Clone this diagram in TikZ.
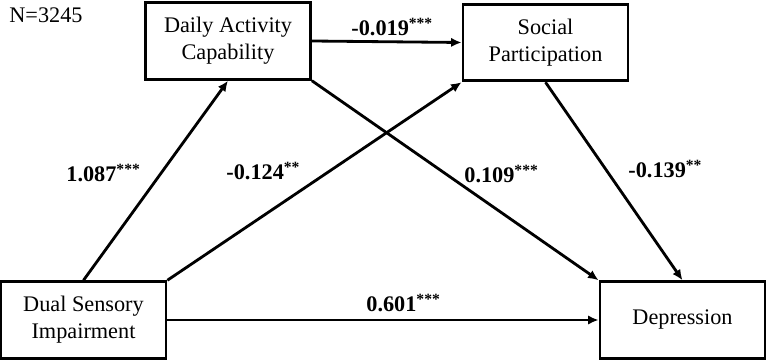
\documentclass[tikz,border=0pt]{standalone}
\usepackage{fontspec}
\setmainfont{Liberation Serif}
\usetikzlibrary{arrows.meta}
\begin{document}
\begin{tikzpicture}[>={Latex[length=9pt,width=8pt]}, line width=2.4pt,
  box/.style={draw, align=center, minimum width=4.95cm, minimum height=2.3cm,
    font=\fontsize{19}{23}\selectfont},
  coef/.style={anchor=base west, inner sep=0pt, font=\fontsize{19}{23}\selectfont\bfseries}]
\useasboundingbox (0,0) rectangle (23.01,10.83);
\node[anchor=base west, inner sep=0pt, font=\fontsize{19}{23}\selectfont](N) at (0.24,10.14){N=3245};

\node[box](M1) at (6.84,9.6){Daily Activity\\Capability};
\node[box](M2) at (16.365,9.555){Social\\Participation};
\node[box](X) at (2.505,1.23){Dual Sensory\\Impairment};
\node[box](Y) at (20.475,1.23){Depression};

\draw[->](X.north) -- (M1.south);
\draw[->](X.north east) -- (M2.south west);
\draw[->](M1.east) -- (M2.west);
\draw[->](M1.south east) -- (Y.north west);
\draw[->](M2.south) -- (Y.north);
\draw[->](X.east) -- (Y.west);

\node[coef](A) at (1.95,5.37){1.087\textsuperscript{***}};
\node[coef](B) at (6.75,5.43){-0.124\textsuperscript{**}};
\node[coef](C) at (10.5,9.75){-0.019\textsuperscript{***}};
\node[coef](D) at (13.89,5.34){0.109\textsuperscript{***}};
\node[coef](E) at (18.81,5.49){-0.139\textsuperscript{**}};
\node[coef](F) at (10.95,1.47){0.601\textsuperscript{***}};
\end{tikzpicture}
\end{document}
